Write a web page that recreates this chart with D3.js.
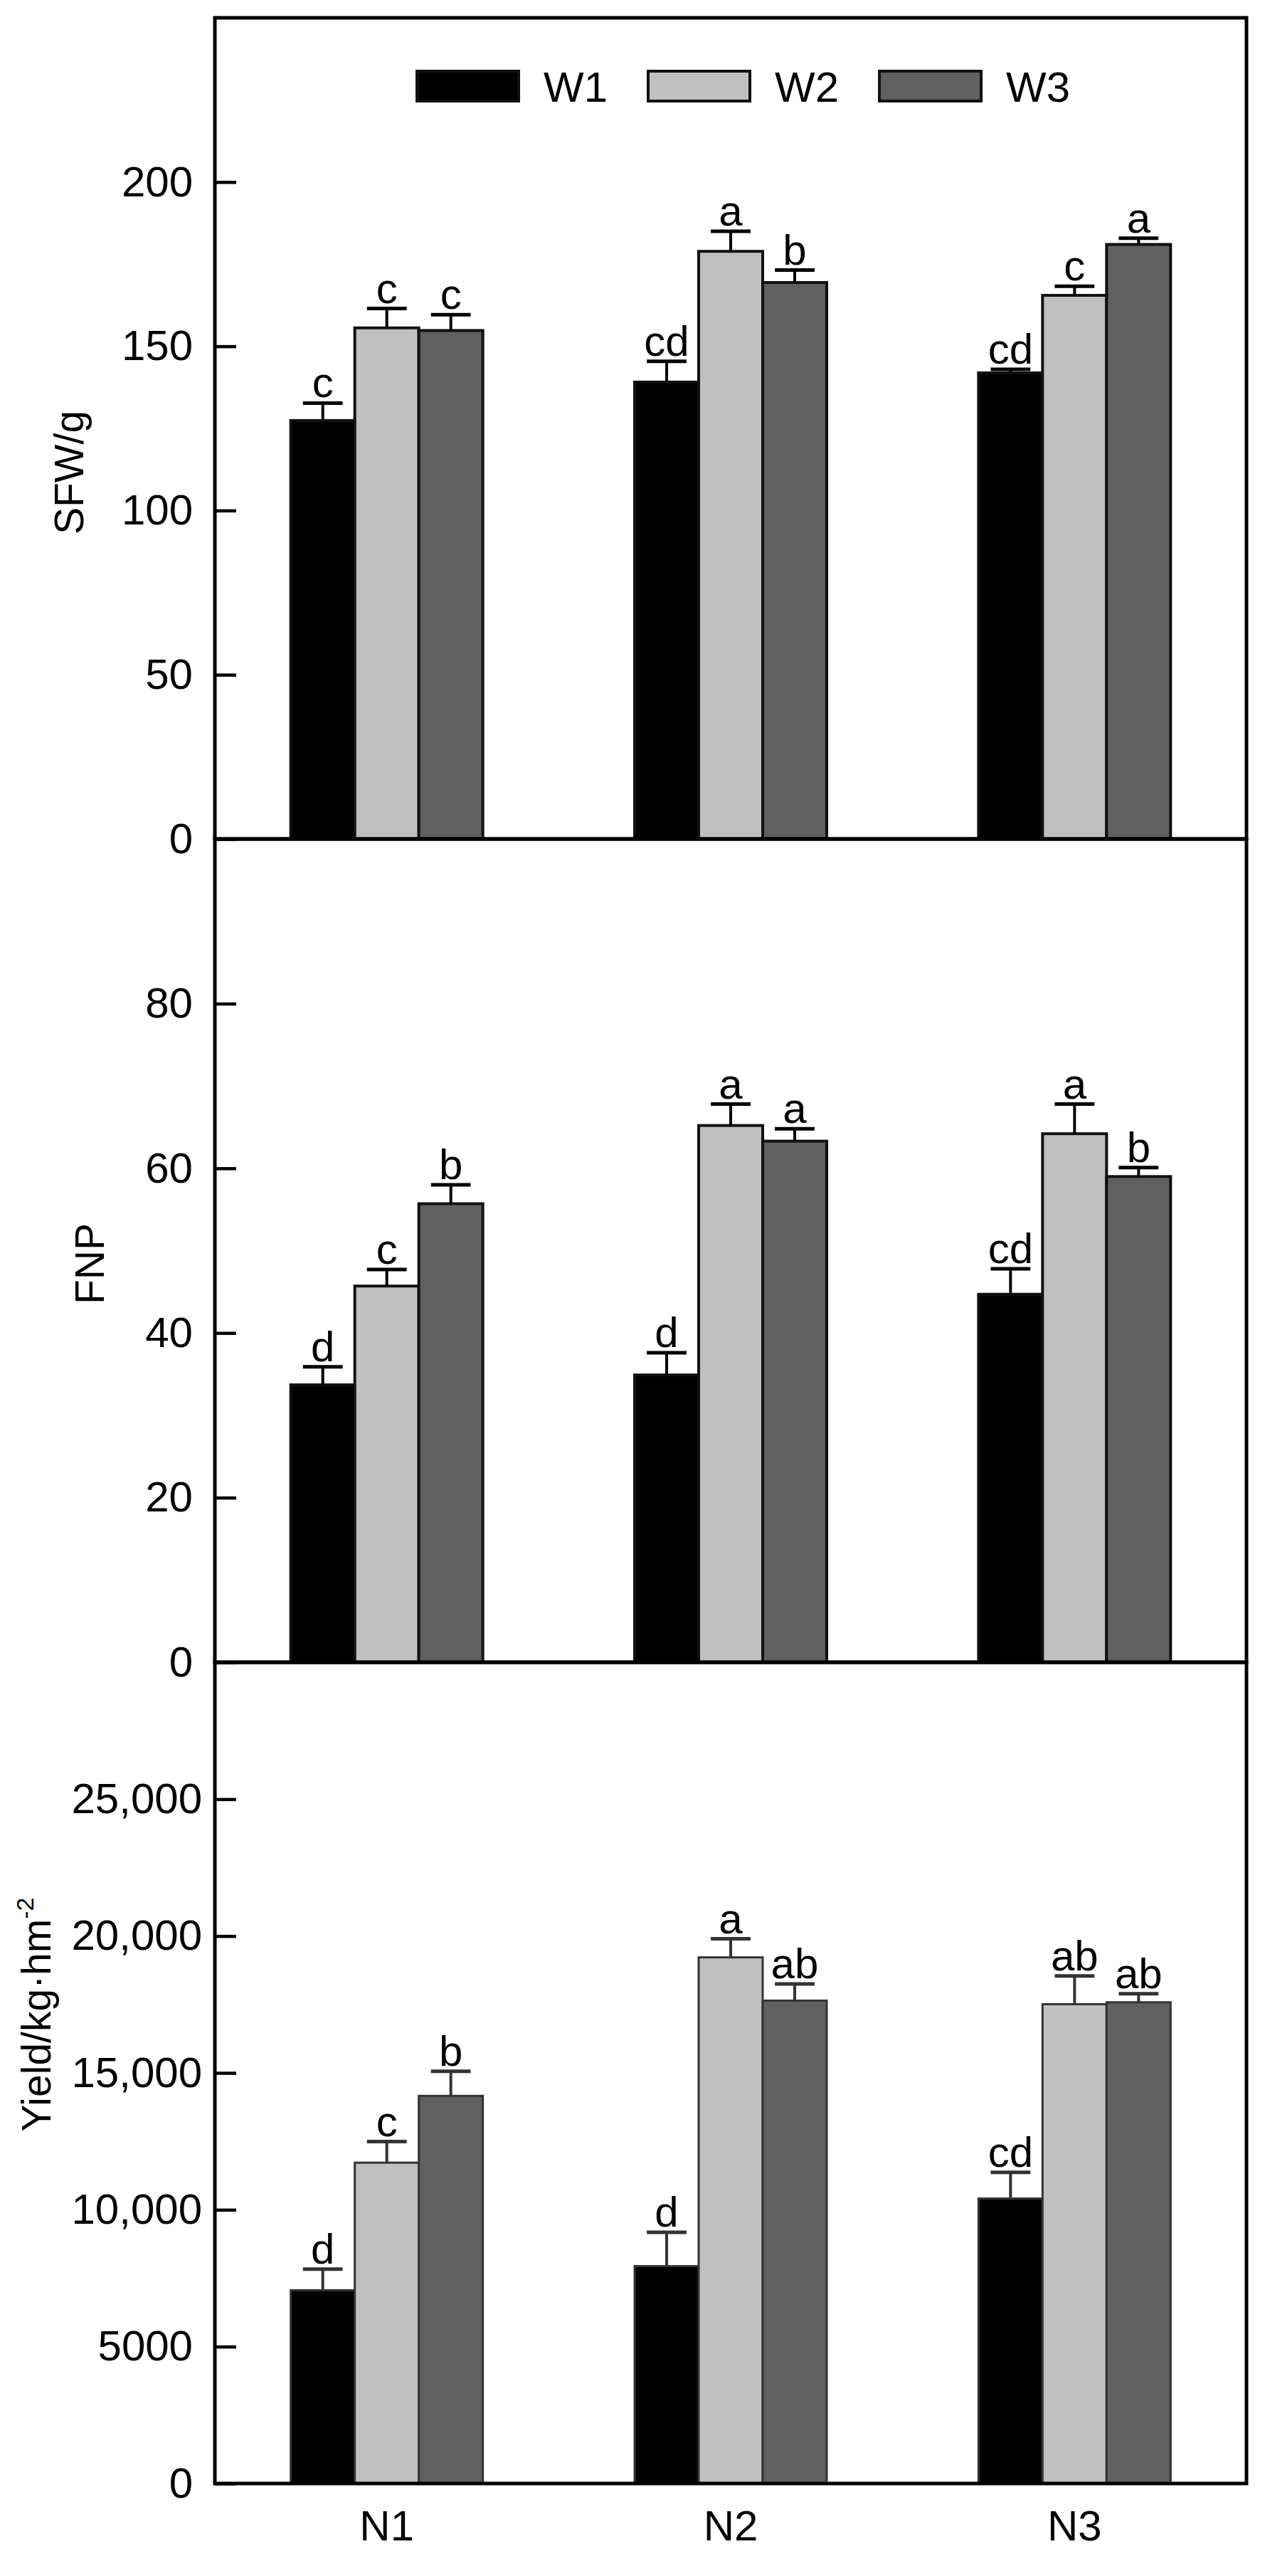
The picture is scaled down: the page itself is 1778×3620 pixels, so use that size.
<!DOCTYPE html>
<html>
<head>
<meta charset="utf-8">
<script src="https://cdn.jsdelivr.net/npm/d3@7"></script>
<style>
  html, body { margin: 0; padding: 0; background: #fff; }
  svg { display: block; }
  text { font-family: "Liberation Sans", Arial, sans-serif; fill: #000; }
</style>
</head>
<body>
<div id="chart"></div>
<script>
// ---------------- DATA ----------------
const categories = ["N1", "N2", "N3"];
const series = ["W1", "W2", "W3"];

// SFW/g
const sfwW1 = [127.4, 139.1, 141.9];
const sfwW2 = [155.6, 178.9, 165.5];
const sfwW3 = [154.8, 169.4, 181.0];
const sfwErrW1 = [5.3, 6.3, 1.1];
const sfwErrW2 = [5.9, 6.1, 2.8];
const sfwErrW3 = [4.8, 3.8, 1.9];
const sfwLetW1 = ["c", "cd", "cd"];
const sfwLetW2 = ["c", "a", "c"];
const sfwLetW3 = ["c", "b", "a"];
const sfwTicks = [0, 50, 100, 150, 200];
const sfwTickLabels = ["0", "50", "100", "150", "200"];

// FNP
const fnpW1 = [33.7, 34.9, 44.7];
const fnpW2 = [45.7, 65.2, 64.2];
const fnpW3 = [55.7, 63.3, 59.0];
const fnpErrW1 = [2.2, 2.7, 3.1];
const fnpErrW2 = [2.0, 2.6, 3.6];
const fnpErrW3 = [2.3, 1.5, 1.1];
const fnpLetW1 = ["d", "d", "cd"];
const fnpLetW2 = ["c", "a", "a"];
const fnpLetW3 = ["b", "a", "b"];
const fnpTicks = [0, 20, 40, 60, 80];
const fnpTickLabels = ["0", "20", "40", "60", "80"];

// Yield
const yldW1 = [7060, 7940, 10410];
const yldW2 = [11720, 19220, 17510];
const yldW3 = [14160, 17640, 17580];
const yldErrW1 = [770, 1240, 960];
const yldErrW2 = [770, 680, 1030];
const yldErrW3 = [900, 610, 310];
const yldLetW1 = ["d", "d", "cd"];
const yldLetW2 = ["c", "a", "ab"];
const yldLetW3 = ["b", "ab", "ab"];
const yldTicks = [0, 5000, 10000, 15000, 20000, 25000];
const yldTickLabels = ["0", "5000", "10,000", "15,000", "20,000", "25,000"];

const seriesFill = ["#000000", "#c0c0c0", "#606060"];

// ---------------- LAYOUT ----------------
const W = 1778, H = 3620;
const left = 302, right = 1752;
const FS = 60;

const panels = [
  { top: 25, bottom: 1179, max: 250, title: "SFW/g", titleX: 117, titleY: 664,
    vals: [sfwW1, sfwW2, sfwW3], errs: [sfwErrW1, sfwErrW2, sfwErrW3],
    lets: [sfwLetW1, sfwLetW2, sfwLetW3], ticks: sfwTicks, tickLabels: sfwTickLabels, legend: true },
  { top: 1179, bottom: 2336, max: 100, title: "FNP", titleX: 146, titleY: 1776,
    vals: [fnpW1, fnpW2, fnpW3], errs: [fnpErrW1, fnpErrW2, fnpErrW3],
    lets: [fnpLetW1, fnpLetW2, fnpLetW3], ticks: fnpTicks, tickLabels: fnpTickLabels },
  { top: 2336, bottom: 3490, max: 30000, title: "Yield/kg·hm", sup: "-2", titleX: 71, titleY: 2831,
    vals: [yldW1, yldW2, yldW3], errs: [yldErrW1, yldErrW2, yldErrW3],
    lets: [yldLetW1, yldLetW2, yldLetW3], ticks: yldTicks, tickLabels: yldTickLabels }
];

const svg = d3.select("#chart").append("svg").attr("width", W).attr("height", H);
svg.append("rect").attr("width", W).attr("height", H).attr("fill", "#fff");

const x0 = d3.scaleBand().domain(categories).range([left, right])
  .paddingInner(0.4414).paddingOuter(0.2207);
const x1 = d3.scaleBand().domain(series).range([0, x0.bandwidth()]);

panels.forEach((p, pi) => {
  const y = d3.scaleLinear().domain([0, p.max]).range([p.bottom, p.top]);
  const g = svg.append("g");

  const rows = [];
  categories.forEach((c, ci) => {
    series.forEach((s, si) => {
      rows.push({ c, s, si, v: p.vals[si][ci], e: p.errs[si][ci], l: p.lets[si][ci] });
    });
  });

  // bars
  g.selectAll("rect.bar").data(rows).enter().append("rect")
    .attr("class", "bar")
    .attr("x", d => x0(d.c) + x1(d.s))
    .attr("width", x1.bandwidth())
    .attr("y", d => y(d.v))
    .attr("height", d => y(0) - y(d.v))
    .attr("fill", d => seriesFill[d.si])
    .attr("stroke", pi === 2 ? "#333" : "#111")
    .attr("stroke-width", pi === 2 ? 3 : 4);

  // error bars (upper only)
  const capHalf = x1.bandwidth() * 0.31;
  const eg = g.selectAll("g.err").data(rows).enter().append("g").attr("class", "err")
    .attr("stroke", pi === 2 ? "#333" : "#000");
  eg.append("line")
    .attr("x1", d => x0(d.c) + x1(d.s) + x1.bandwidth() / 2)
    .attr("x2", d => x0(d.c) + x1(d.s) + x1.bandwidth() / 2)
    .attr("y1", d => y(d.v))
    .attr("y2", d => y(d.v + d.e))
    .attr("stroke-width", 4);
  eg.append("line")
    .attr("x1", d => x0(d.c) + x1(d.s) + x1.bandwidth() / 2 - capHalf)
    .attr("x2", d => x0(d.c) + x1(d.s) + x1.bandwidth() / 2 + capHalf)
    .attr("y1", d => y(d.v + d.e))
    .attr("y2", d => y(d.v + d.e))
    .attr("stroke-width", 5);

  // letters
  g.selectAll("text.let").data(rows).enter().append("text")
    .attr("class", "let")
    .attr("x", d => x0(d.c) + x1(d.s) + x1.bandwidth() / 2)
    .attr("y", d => y(d.v + d.e) - 8)
    .attr("text-anchor", "middle")
    .attr("font-size", FS)
    .text(d => d.l);

  // y axis with inward ticks
  const axis = d3.axisLeft(y)
    .tickValues(p.ticks)
    .tickFormat((d, i) => p.tickLabels[i])
    .tickSizeInner(-30)
    .tickSizeOuter(0)
    .tickPadding(31);
  const ag = svg.append("g").attr("transform", `translate(${left},0)`).call(axis);
  ag.select(".domain").remove();
  ag.selectAll(".tick line").attr("stroke", "#000").attr("stroke-width", 4.5);
  ag.selectAll(".tick text")
    .attr("font-size", FS)
    .attr("font-family", '"Liberation Sans", Arial, sans-serif')
    .attr("fill", "#000")
    .attr("dx", (d, i) => p.tickLabels[i].includes(",") ? 13 : 0);

  // frame
  svg.append("rect")
    .attr("x", left).attr("y", p.top)
    .attr("width", right - left).attr("height", p.bottom - p.top)
    .attr("fill", "none").attr("stroke", "#000").attr("stroke-width", 5);

  // y title
  const t = svg.append("text")
    .attr("transform", `translate(${p.titleX},${p.titleY}) rotate(-90)`)
    .attr("text-anchor", "middle")
    .attr("font-size", 57)
    .text(p.title);
  if (p.sup) {
    t.append("tspan").attr("font-size", 34).attr("dy", -24).text(p.sup);
  }

  // legend
  if (p.legend) {
    const lx = d3.scalePoint().domain(series).range([586, 1236]);
    const lg = svg.append("g");
    series.forEach((s, si) => {
      lg.append("rect")
        .attr("x", lx(s)).attr("y", 100)
        .attr("width", 143).attr("height", 42)
        .attr("fill", seriesFill[si])
        .attr("stroke", "#111").attr("stroke-width", 4);
      lg.append("text")
        .attr("x", lx(s) + 178).attr("y", 121)
        .attr("dy", "0.36em")
        .attr("font-size", 60)
        .text(s);
    });
  }
});

// x category labels
svg.append("g").selectAll("text.cat").data(categories).enter().append("text")
  .attr("class", "cat")
  .attr("x", d => x0(d) + x0.bandwidth() / 2)
  .attr("y", 3570)
  .attr("text-anchor", "middle")
  .attr("font-size", 60)
  .text(d => d);
</script>
</body>
</html>
